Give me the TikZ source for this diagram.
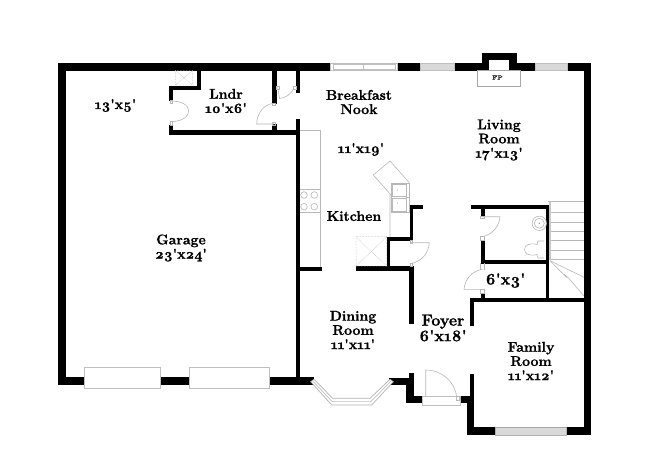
\documentclass[tikz,border=0pt]{standalone}
\usepackage{fontspec}
\newfontfamily\labfont{Latin Modern Roman}[Numbers=OldStyle,BoldFeatures={FakeBold=1.2}]
\tikzset{
  wall/.style={fill=black,draw=black,line width=0.4pt},
  fix/.style={draw=black!28,line width=0.6pt,fill=none},
  fixfine/.style={draw=black!35,line width=0.5pt,fill=none},
  dotbox/.style={draw=black!30,line width=0.5pt,densely dotted},
  winwhite/.style={draw=black!25,line width=0.9pt,fill=white},
  wingray/.style={draw=black!25,line width=0.7pt,fill=black!15},
  lab/.style={font=\labfont\bfseries\fontsize{14.1}{14.2}\selectfont,align=center,inner sep=0pt,text=black},
  labbig/.style={font=\labfont\bfseries\fontsize{16}{15.5}\selectfont,align=center,inner sep=0pt,text=black}
}
\begin{document}
\begin{tikzpicture}[x=1pt,y=-1pt]
\useasboundingbox (0,0) rectangle (650,473);
\fill[white] (0,0) rectangle (650,473);
% outer walls
\draw[wall] (58.5,63.5) rectangle (590,70);
\draw[wall] (58.5,63.5) rectangle (65,384.3);
\draw[wall] (58.5,377.5) rectangle (313,384.3);
\draw[wall] (584,63.5) rectangle (590.3,434.3);
\draw[wall] (466.7,427) rectangle (590.3,434.3);
\draw[wall] (389.5,378.3) rectangle (412.7,384.3);
\draw[wall] (409.3,372.7) rectangle (412.7,384);
\draw[wall] (406,378.3) rectangle (412.7,402.3);
\draw[wall] (406,395.7) rectangle (423,402.3);
\draw[wall] (460,395.7) rectangle (473.3,402.3);
\draw[wall] (466.7,400) rectangle (473.3,434.3);
\draw[wall] (470,374) rectangle (473.3,402);
\draw[wall] (470,298.3) rectangle (473.3,325);
\draw[wall] (470,298.3) rectangle (585,301.3);
% fireplace
\draw[wall] (481.7,53.3) rectangle (515.7,70);
\fill[white] (489,60) rectangle (509,70.5);
\draw[fixfine] (477.7,70) rectangle (520,86.7);
\node[inner sep=0pt,font=\labfont\bfseries\fontsize{6}{6}\selectfont,text=black!80] (fp) at (497.5,77.5) {FP};
% garage / laundry walls
\draw[wall] (296.5,70) rectangle (299.6,92);
\draw[wall] (296.5,119.5) rectangle (299.6,381);
\draw[wall] (272.3,70) rectangle (275.7,103);
\draw[wall] (272.3,124.5) rectangle (275.7,131);
\draw[wall] (169,130.2) rectangle (299.6,134);
\draw[wall] (169,125) rectangle (172.4,134);
\draw[wall] (169,86) rectangle (172.4,100);
\draw[wall] (169,86) rectangle (200,89);
\draw[wall] (196.7,70) rectangle (200,89);
% heater box
\draw[dotbox] (175.3,70.5) rectangle (192.7,85) (175.3,70.5) -- (192.7,85) (192.7,70.5) -- (175.3,85);
% laundry doors
\draw[fix] (170.7,101) .. controls (180,101) and (188.5,104) .. (188.5,111) .. controls (188.5,118) and (180,121.5) .. (170.7,121.7);
\draw[fix] (170,100) rectangle (172.4,103);
\draw[fix] (170,121.7) rectangle (172.4,125);
\draw[fix] (274,103.3) .. controls (264,104) and (257,113) .. (256.7,124) -- (274,124);
\draw[fix] (272.5,103) rectangle (275.7,105);
\draw[fix] (272.5,122) rectangle (275.7,125);
\draw[fix] (277.7,86.5) -- (279.5,98.5) .. controls (286,98) and (291,94) .. (294,88);
\draw[fix] (276,86) rectangle (279,89.5);
\draw[fix] (293,86) rectangle (296.5,89.5);
% top windows
\draw[winwhite] (330.7,63.4) rectangle (397.3,70.4);
\draw[winwhite] (333.5,64.5) rectangle (363.3,69.5) (363.3,64.5) rectangle (395,69.5);
\draw[wingray] (420.7,63.6) rectangle (454.3,70.4);
\draw[wingray] (535,63.6) rectangle (567.7,70.4);
% garage windows
\draw[winwhite] (84,367.5) rectangle (160,388.3);
\draw[winwhite] (189.5,367.5) rectangle (269.5,388.3);
% family window
\draw[wingray,draw=black!30] (495,427.5) rectangle (566.7,435.5);
\fill[white] (495,424.5) rectangle (566.7,427);
\draw[fixfine] (495,427.5) -- (566.7,427.5);
% bay window
\fill[white,draw=black!30,line width=0.7pt] (310.7,381.7) -- (331.7,405) -- (371.7,405) -- (393.3,381.7) -- (390,379.3) -- (370,398.3) -- (332.7,398.3) -- (314,379.3) -- cycle;
\draw[black!25,line width=0.7pt] (312.3,380.5) -- (332.2,401.6) -- (370.8,401.6) -- (391.6,380.5);
% entry door
\draw[winwhite,line width=0.6pt] (422.3,396.7) rectangle (460,405);
\draw[fix] (425.7,396.7) -- (425.7,370) .. controls (442,370) and (455,382) .. (456.7,396.7);
\draw[fix] (456.7,396.7) rectangle (459,400);
% kitchen counter
\draw[fix] (299.5,130) -- (320.7,130) -- (320.7,268);
\draw[fix] (299.5,189.3) -- (320.7,189.3) (299.5,212.3) -- (320.7,212.3);
\foreach \cx/\cy in {304/195,314.3/195,304/206.7,314.3/206.7}{\draw[fix] (\cx,\cy) circle (3.3);}
\draw[wall] (296.5,267) rectangle (320.7,269.7);
\draw[wall] (356,266.2) rectangle (412.7,269.7);
\draw[wall] (386.7,237) rectangle (389.6,269);
\draw[wall] (386.7,237) rectangle (412,240);
\draw[wall] (410,205.2) rectangle (412.3,240);
\draw[wall] (410,205.2) rectangle (421.7,208);
\draw[wall] (409.5,266) rectangle (412.7,323.3);
% pantry
\draw[dotbox] (356,236.7) rectangle (386.7,266.2) (356,236.7) -- (386.7,266.2) (386.7,236.7) -- (356,266.2);
% sink and counter
\draw[fix] (373.3,175) -- (390,161) -- (409.3,182.7) (373.3,175) -- (391,195) (390,195) -- (390,237);
\draw[fix] (391.3,183.3) rectangle (409.3,212.7);
\draw[fix] (392.5,184.5) rectangle (406.5,196.5);
\draw[fix] (392.5,198) rectangle (406.5,211.5);
\fill[black!45] (397.5,190) circle (0.5) (397.5,203) circle (0.5);
\draw[fix] (406,197) -- (408.5,197);
% kitchen-foyer door
\draw[fix] (411,242.7) -- (429.3,242.7) .. controls (429,253) and (421,262) .. (411,263.5);
\draw[fix] (410,240) rectangle (412.3,243);
\draw[fix] (410,263.5) rectangle (412.3,266);
% bathroom
\draw[wall] (471,205) rectangle (548.3,208.3);
\draw[wall] (480.7,208) rectangle (484,216);
\draw[wall] (480.7,240) rectangle (484,263);
\draw[wall] (483,260) rectangle (548.3,263.3);
\draw[wall] (545.7,205) rectangle (548.3,300);
\draw[wall] (480.7,293) rectangle (484,299);
\draw[fix] (482.3,216.7) -- (500,216.7) .. controls (499.5,226) and (492,235) .. (482.3,236.7);
\draw[fix] (480.7,216) rectangle (484,218);
\draw[fix] (480.7,236.7) rectangle (484,240);
\draw[fix] (482.3,269.3) .. controls (472,271) and (465,279) .. (464,289.3) -- (482.3,289.3);
\draw[fix] (480.7,263.3) -- (480.7,269.5) (484,263.3) -- (484,269.5);
\draw[fix] (480.7,289.5) rectangle (484,293);
% fixtures
\draw[fix] (539.3,223.3) circle (7.2);
\draw[fix] (539.3,223.3) circle (5);
\fill[black!45] (539.3,223.3) circle (0.7);
\draw[fix] (544,241) -- (538,241) -- (537,244.5) .. controls (530,242.5) and (524.5,245) .. (524.5,249.5) .. controls (524.5,254) and (530,256.5) .. (537,254.5) -- (538,258) -- (544,258);
% stairs
\fill[black!22] (548.5,201.5) rectangle (550.7,260);
\draw[fix] (548.3,201) -- (584,201);
\foreach \yy in {212.7,222.3,231.7,240.7,250,259.3}{\draw[fix] (550.7,\yy) -- (584,\yy);}
\draw[fix] (550,260.7) -- (584,277.3);
\draw[fix] (550,260.7) -- (566,277) -- (565,275) -- (568.5,278) -- (584,296);
% labels
\node[lab] (garage5) at (115.5,105.5) {13'x5'};
\node[lab] (lndr) at (226,101) {Lndr\\10'x6'};
\node[lab] (nook) at (359,102) {Breakfast\\Nook};
\node[lab] (nooksize) at (361,149.5) {11'x19'};
\node[lab] (living) at (499,140) {Living\\Room\\17'x13'};
\node[lab] (kitchen) at (354,216) {Kitchen};
\node[lab] (garage) at (181,248) {Garage\\23'x24'};
\node[labbig] (hall) at (505.5,280.5) {6'x3'};
\node[lab] (dining) at (353,330) {Dining\\Room\\11'x11'};
\node[labbig] (foyer) at (443,328) {Foyer\\6'x18'};
\node[lab] (family) at (531,361) {Family\\Room\\11'x12'};
\end{tikzpicture}
\end{document}
